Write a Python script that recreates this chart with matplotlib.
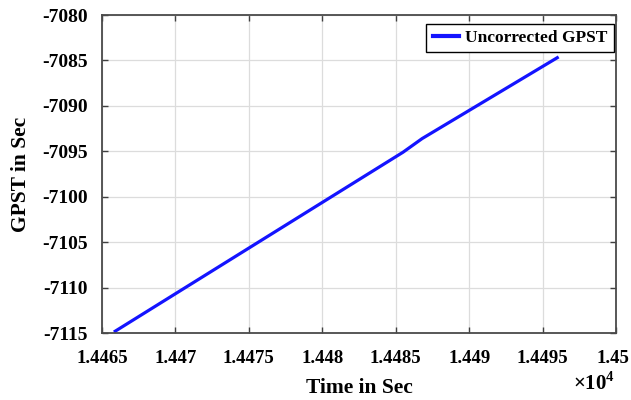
import numpy as np
import matplotlib
matplotlib.use("Agg")
import matplotlib.pyplot as plt
from matplotlib.transforms import ScaledTranslation

# time (s) and uncorrected GPS system time (s)
time_sec = [14465.9, 14485.5, 14486.8, 14496.0]
gpst_sec = [-7114.8, -7095.1, -7093.6, -7084.7]

xticks = [14465, 14470, 14475, 14480, 14485, 14490, 14495, 14500]
xtick_labels = ["1.4465", "1.447", "1.4475", "1.448", "1.4485", "1.449", "1.4495", "1.45"]
yticks = [-7115, -7110, -7105, -7100, -7095, -7090, -7085, -7080]

plt.rcParams["font.family"] = ["Liberation Serif", "DejaVu Serif"]
plt.rcParams["font.weight"] = "bold"
plt.rcParams["axes.unicode_minus"] = False
plt.rcParams["mathtext.fontset"] = "custom"
plt.rcParams["mathtext.rm"] = "Liberation Serif:bold"
plt.rcParams["mathtext.bf"] = "Liberation Serif:bold"

fig = plt.figure(figsize=(6.31, 4.00), dpi=100)
ax = fig.add_axes([102 / 631, 1 - 333 / 400, 514 / 631, 318 / 400])

ax.plot(time_sec, gpst_sec, color="#1414ff", lw=2.3, label="Uncorrected GPST")

ax.set_xlim(14465, 14500)
ax.set_ylim(-7115, -7080)
ax.set_xticks(xticks)
ax.set_xticklabels(xtick_labels)
ax.set_yticks(yticks)
ax.grid(True, color="#dcdcdc", lw=0.9)
ax.set_axisbelow(True)

ax.tick_params(direction="in", top=True, right=True, length=4, width=1.0,
               color="#404040", labelsize=14)
ax.tick_params(axis="x", pad=12, labelsize=13.5)
ax.tick_params(axis="y", pad=10)
for s in ax.spines.values():
    s.set_color("#4a4a4a")
    s.set_linewidth(1.3)

# keep the last x label inside the canvas
last = ax.get_xticklabels()[-1]
last.set_transform(last.get_transform() + ScaledTranslation(-3 / 100, 0, fig.dpi_scale_trans))

ax.set_xlabel("Time in Sec", fontsize=15.5, fontweight="bold", labelpad=8)
ax.set_ylabel("GPST in Sec", fontsize=15.5, fontweight="bold", labelpad=8)

fig.text(573 / 631, 1 - 384 / 400, r"$\times10^{4}$", fontsize=15, va="center", ha="left")

leg = ax.legend(loc="upper right", bbox_to_anchor=(0.996, 0.972), borderaxespad=0,
                fontsize=12.5, fancybox=False, framealpha=1, edgecolor="black",
                handlelength=1.5, handletextpad=0.4, borderpad=0.35)
leg.get_frame().set_linewidth(1.0)
for t in leg.get_texts():
    t.set_fontweight("bold")
leg.get_lines()[0].set_linewidth(3.0)

fig.savefig("out.png", dpi=100)
